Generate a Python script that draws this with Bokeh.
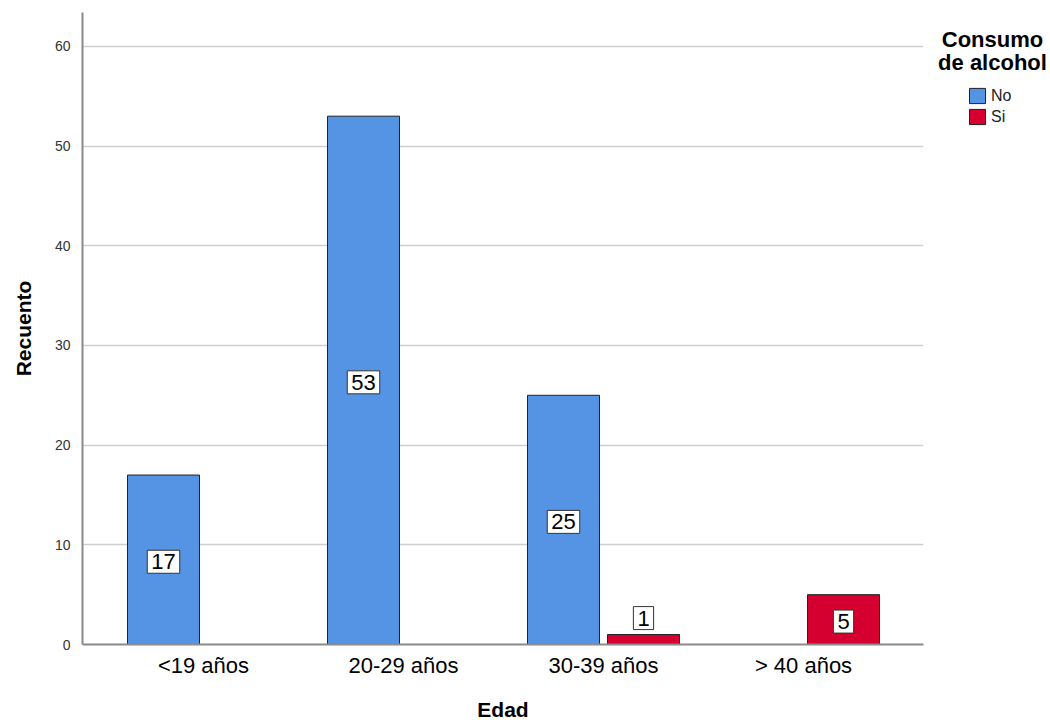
from bokeh.plotting import figure
from bokeh.models import ColumnDataSource, Range1d, FixedTicker, Legend, LegendItem, Label
from bokeh.layouts import row
from bokeh.embed import file_html
from bokeh.resources import INLINE
from bokeh.core.properties import value
import numpy as np

categories = ["<19 años", "20-29 años", "30-39 años", "> 40 años"]
series_names = ["No", "Si"]
no_counts = [17, 53, 25, 0]
si_counts = [0, 0, 1, 5]
y_ticks = [0, 10, 20, 30, 40, 50, 60]
legend_title = "Consumo\nde alcohol"

colors = {"No": "#5594E4", "Si": "#D5002F"}
FONT = "Liberation Sans"

p = figure(frame_width=841, frame_height=632, output_backend="svg", toolbar_location=None,
           x_range=Range1d(-0.605, 3.6), y_range=Range1d(0, 63.4),
           min_border_left=82, min_border_right=10, min_border_top=12, min_border_bottom=74)
p.outline_line_color = None
p.background_fill_color = "white"
p.border_fill_color = "white"

offsets = {"No": -0.2, "Si": 0.2}
bar_w = 0.36
lx, ly, lt = [], [], []
for name, vals in zip(series_names, [no_counts, si_counts]):
    xs = np.arange(len(categories)) + offsets[name]
    v = np.array(vals, dtype=float)
    src = ColumnDataSource(dict(x=xs, top=v))
    p.vbar(x="x", top="top", width=bar_w, source=src, fill_color=colors[name],
           line_color="#222222", line_width=1)
    for xi, vi in zip(xs, v):
        if vi > 0:
            lx.append(xi)
            ly.append(vi / 2 - 0.2 if vi / 2 >= 1.6 else vi + 1.65)
            lt.append(str(int(vi)))

lab_src = ColumnDataSource(dict(x=lx, y=ly, t=lt))
p.text(x="x", y="y", text="t", source=lab_src, text_align="center", text_baseline="middle",
       text_font=value(FONT), text_font_size="22px", text_color="black",
       background_fill_color="white", border_line_color="#333333", border_line_width=1,
       padding=4)

# axes
p.xgrid.grid_line_color = None
p.ygrid.grid_line_color = "#cfcfcf"
p.ygrid.grid_line_width = 1.5
p.yaxis.ticker = FixedTicker(ticks=y_ticks)
p.xaxis.ticker = FixedTicker(ticks=list(range(len(categories))))
p.xaxis.major_label_overrides = {i: c for i, c in enumerate(categories)}

for ax in (p.xaxis[0], p.yaxis[0]):
    ax.axis_line_color = "#8a8a8a"
    ax.axis_line_width = 2
    ax.major_tick_out = 0
    ax.major_tick_in = 0
    ax.minor_tick_out = 0
    ax.minor_tick_in = 0
    ax.major_tick_line_color = None
    ax.minor_tick_line_color = None
    ax.axis_label_text_font = FONT
    ax.axis_label_text_font_style = "bold"
    ax.axis_label_text_font_size = "21px"
    ax.axis_label_text_color = "black"
    ax.major_label_text_font = FONT

p.yaxis.axis_label = "Recuento"
p.yaxis.major_label_text_font_size = "14px"
p.yaxis.major_label_text_color = "#333333"
p.yaxis.major_label_standoff = 12
p.yaxis.axis_label_standoff = 17

p.xaxis.axis_label = "Edad"
p.xaxis.major_label_text_font_size = "22px"
p.xaxis.major_label_text_color = "black"
p.xaxis.major_label_standoff = 8
p.xaxis.axis_label_standoff = 17

# legend panel (separate small figure without axes so that nothing is clipped)
p2 = figure(width=115, height=722, output_backend="svg", toolbar_location=None,
            x_range=Range1d(0, 1), y_range=Range1d(0, 1),
            x_axis_location=None, y_axis_location=None, min_border=0)
p2.grid.visible = False
p2.outline_line_color = None
p2.background_fill_color = "white"
p2.border_fill_color = "white"

items = []
for name in series_names:
    # legend proxies with no drawable data; only their legend swatches show
    r = p2.vbar(x=[np.nan], top=[np.nan], bottom=[np.nan], width=0.1, fill_color=colors[name],
                line_color="#222222", line_width=1)
    items.append(LegendItem(label=name, renderers=[r]))

legend = Legend(items=items, location=(34, 517), orientation="vertical",
                padding=0, margin=0, spacing=2, glyph_width=20, glyph_height=19,
                label_standoff=4, label_text_font=FONT, label_text_font_size="16px",
                label_text_color="#222222", border_line_color=None, background_fill_alpha=0,
                label_height=19)
p2.add_layout(legend, "center")

title = Label(x=59, y=617, x_units="screen", y_units="screen", text=legend_title,
              text_align="center", text_baseline="top", text_font=FONT,
              text_font_style="bold", text_font_size="22px", text_color="black",
              text_line_height=0.95)
p2.add_layout(title)

layout = row(p, p2)
open("out.html", "w").write(file_html(layout, INLINE))
